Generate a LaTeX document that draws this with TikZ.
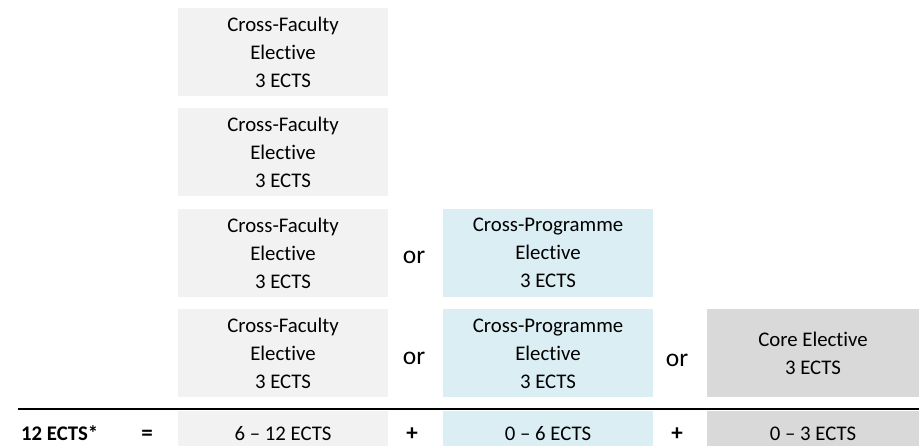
\documentclass[tikz,border=0pt]{standalone}
\usepackage{fontspec}
\setmainfont{Carlito}[RawFeature={-liga}]
\definecolor{cfgray}{HTML}{F2F2F2}
\definecolor{cpblue}{HTML}{DAEEF3}
\definecolor{coregray}{HTML}{D9D9D9}
\begin{document}
\begin{tikzpicture}[x=1pt,y=-1pt,
  boxbase/.style={inner sep=0pt, outer sep=0pt, align=center, minimum height=88pt,
    font=\fontsize{20.8}{28}\selectfont, text=black},
  cfbox/.style={boxbase, fill=cfgray, minimum width=210pt},
  cpbox/.style={boxbase, fill=cpblue, minimum width=210pt},
  corebox/.style={boxbase, fill=coregray, minimum width=212pt},
  bottombox/.style={inner sep=0pt, outer sep=0pt, minimum height=35pt},
  ortext/.style={inner sep=0pt, anchor=base, font=\fontsize{25.5}{30}\selectfont},
  sumtext/.style={inner sep=0pt, anchor=base, font=\fontsize{20.8}{28}\selectfont},
  boldtext/.style={inner sep=0pt, anchor=base, font=\fontsize{20.8}{28}\selectfont\bfseries},
  signtext/.style={inner sep=0pt, anchor=base, font=\fontsize{23}{28}\selectfont\bfseries},
]
\useasboundingbox (0,0) rectangle (919,446);

% Cross-Faculty column
\node[cfbox] (cf1) at (283,52) {Cross-Faculty\\Elective\\3 ECTS};
\node[cfbox] (cf2) at (283,152.5) {Cross-Faculty\\Elective\\3 ECTS};
\node[cfbox] (cf3) at (283,253) {Cross-Faculty\\Elective\\3 ECTS};
\node[cfbox] (cf4) at (283,353.5) {Cross-Faculty\\Elective\\3 ECTS};

% Cross-Programme column
\node[cpbox] (cp3) at (548,253) {Cross-Programme\\Elective\\3 ECTS};
\node[cpbox] (cp4) at (548,353.5) {Cross-Programme\\Elective\\3 ECTS};

% Core column
\node[corebox] (core4) at (813,353.5) {Core Elective\\3 ECTS};

% or labels
\node[ortext] (or3) at (414,264) {or};
\node[ortext] (or4) at (414,365) {or};
\node[ortext] (or5) at (677,367) {or};

% rule
\coordinate (ruleL) at (18,409.3);
\coordinate (ruleR) at (919,409.3);
\draw[line width=2pt] (ruleL) -- (ruleR);

% bottom row boxes
\node[bottombox, fill=cfgray, minimum width=210pt] (bcf) at (283,428.5) {};
\node[bottombox, fill=cpblue, minimum width=210pt] (bcp) at (548,428.5) {};
\node[bottombox, fill=coregray, minimum width=212pt] (bcore) at (813,428.5) {};

% bottom row texts
\node[boldtext, anchor=base west] (total) at (21,440) {12 ECTS*};
\node[signtext] (eq) at (147,440) {=};
\node[sumtext] (scf) at (283,440) {6 -- 12 ECTS};
\node[signtext] (plus1) at (412,440) {+};
\node[sumtext] (scp) at (548,440) {0 -- 6 ECTS};
\node[signtext] (plus2) at (677,440) {+};
\node[sumtext] (score) at (813,440) {0 -- 3 ECTS};
\end{tikzpicture}
\end{document}
